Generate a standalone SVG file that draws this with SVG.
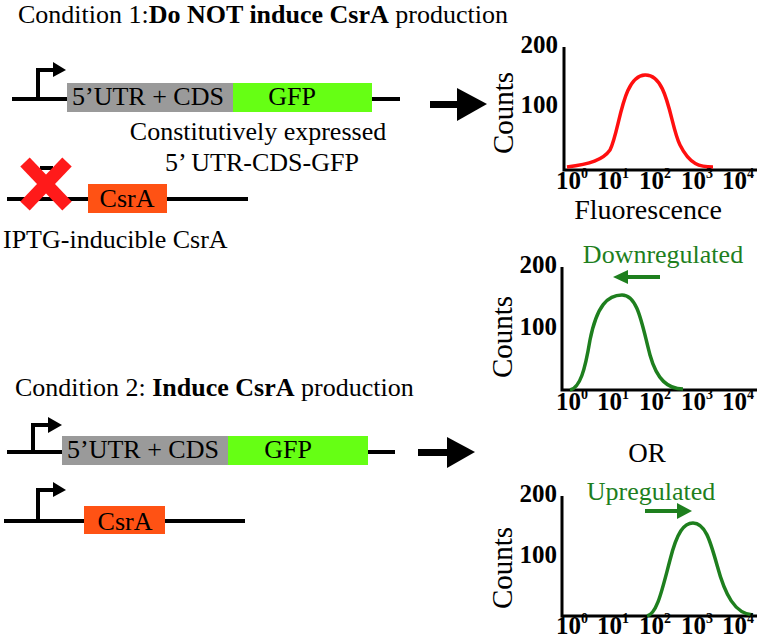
<svg xmlns="http://www.w3.org/2000/svg" width="758" height="639" viewBox="0 0 758 639">
<style>
text{font-family:"Liberation Serif","Times New Roman",serif;fill:#000}
.t{font-size:26px}
.b{font-weight:bold}
.tick{font-size:25px;font-weight:bold}
.sup{font-size:14px}
.ylab{font-size:25px;font-weight:bold;text-anchor:end}
.counts{font-size:29px;text-anchor:middle}
.dna{stroke:#000;stroke-width:4;fill:none}
.prom{stroke:#000;stroke-width:4;fill:none}
.axis{stroke:#000;stroke-width:3;fill:none}
.gray{fill:#9a9a9a}
.gfp{fill:#66ff14}
.csra{fill:#ff5214}
.green{fill:#1e7f1e}
.gcurve{stroke:#1e7f1e;stroke-width:3.5;fill:none}
.rcurve{stroke:#ff0f0f;stroke-width:3.5;fill:none}
.mid{text-anchor:middle}
</style>

<g id="title1"><text class="t" x="18" y="23">Condition 1:<tspan class="b">Do NOT induce CsrA</tspan> production</text></g>
<g id="title2"><text class="t" x="15" y="396">Condition 2: <tspan class="b">Induce CsrA</tspan> production</text></g>

<g id="construct1">
<line class="dna" x1="12" y1="99" x2="400" y2="99"/>
<polyline class="prom" points="38,99 38,70 55,70"/>
<polygon points="53,62 66,70 53,77"/>
<rect class="gray" x="67" y="83" width="166" height="29"/>
<rect class="gfp" x="233" y="83" width="139" height="29"/>
<text class="t" x="72" y="105">5’UTR + CDS</text>
<text class="t mid" x="292" y="105">GFP</text>
<text class="t mid" x="258" y="140">Constitutively expressed</text>
<text class="t mid" x="262" y="171">5’ UTR-CDS-GFP</text>
</g>

<g id="construct2">
<line class="dna" x1="7" y1="199" x2="248" y2="199"/>
<line class="dna" x1="40" y1="168" x2="53" y2="168"/>
<rect class="csra" x="88" y="184" width="79" height="29"/>
<text class="t mid" x="127" y="207">CsrA</text>
<g stroke="#ff1a1a" stroke-width="13">
<line x1="25" y1="162" x2="67" y2="206"/>
<line x1="67" y1="162" x2="25" y2="206"/>
</g>
<text class="t" x="3" y="248">IPTG-inducible CsrA</text>
</g>

<g id="construct3">
<line class="dna" x1="7" y1="452" x2="395" y2="452"/>
<polyline class="prom" points="33,452 33,425 50,425"/>
<polygon points="48,417 62,425 48,433"/>
<rect class="gray" x="62" y="436" width="166" height="29"/>
<rect class="gfp" x="228" y="436" width="140" height="29"/>
<text class="t" x="67" y="458">5’UTR + CDS</text>
<text class="t mid" x="288" y="458">GFP</text>
</g>

<g id="construct4">
<line class="dna" x1="4" y1="521" x2="245" y2="521"/>
<polyline class="prom" points="38,521 38,490 55,490"/>
<polygon points="53,482 66,490 53,497"/>
<rect class="csra" x="84" y="506" width="81" height="28"/>
<text class="t mid" x="125" y="530">CsrA</text>
</g>

<g id="connectors">
<rect x="430" y="101" width="30" height="7"/>
<polygon points="457,88 487,104 457,121"/>
<rect x="418" y="449" width="31" height="7"/>
<polygon points="447,437 475,452 447,468"/>
</g>

<g id="plot1">
<polyline class="axis" points="564,47 564,170 757,170"/>
<text class="ylab" x="558" y="53">200</text>
<text class="ylab" x="558" y="113">100</text>
<text class="counts" transform="translate(513,113) rotate(-90)">Counts</text>
<path class="rcurve" d="M567,167 C590,164 603,160 610,150 C620,130 622,76 645,75 C668,74 670,125 680,145 C690,165 700,167 713,167"/>
<text class="tick" x="556" y="189">10<tspan class="sup" dy="-11">0</tspan></text>
<text class="tick" x="597" y="189">10<tspan class="sup" dy="-11">1</tspan></text>
<text class="tick" x="639" y="189">10<tspan class="sup" dy="-11">2</tspan></text>
<text class="tick" x="681" y="189">10<tspan class="sup" dy="-11">3</tspan></text>
<text class="tick" x="722" y="189">10<tspan class="sup" dy="-11">4</tspan></text>
<text class="mid" x="648" y="219" font-size="28">Fluorescence</text>
</g>

<g id="plot2">
<text class="t mid green" x="663" y="263">Downregulated</text>
<line x1="660" y1="277" x2="625" y2="277" stroke="#1e7f1e" stroke-width="4"/>
<polygon class="green" points="628,270 613,277 628,284"/>
<polyline class="axis" points="562,267 562,390 757,390"/>
<text class="ylab" x="557" y="273">200</text>
<text class="ylab" x="557" y="335">100</text>
<text class="counts" transform="translate(512,337) rotate(-90)">Counts</text>
<path class="gcurve" d="M570,390 C580,388 585,370 590,340 C597,305 608,295 622,295 C638,295 642,325 650,355 C657,380 668,389 683,389"/>
<text class="tick" x="556" y="410">10<tspan class="sup" dy="-11">0</tspan></text>
<text class="tick" x="597" y="410">10<tspan class="sup" dy="-11">1</tspan></text>
<text class="tick" x="639" y="410">10<tspan class="sup" dy="-11">2</tspan></text>
<text class="tick" x="681" y="410">10<tspan class="sup" dy="-11">3</tspan></text>
<text class="tick" x="722" y="410">10<tspan class="sup" dy="-11">4</tspan></text>
</g>

<g id="or"><text class="mid" x="647" y="462" font-size="27">OR</text></g>

<g id="plot3">
<text class="t mid green" x="651" y="500">Upregulated</text>
<line x1="645" y1="511" x2="680" y2="511" stroke="#1e7f1e" stroke-width="4"/>
<polygon class="green" points="677,503 692,511 677,519"/>
<polyline class="axis" points="562,496 562,616 757,616"/>
<text class="ylab" x="557" y="502">200</text>
<text class="ylab" x="557" y="563">100</text>
<text class="counts" transform="translate(512,568) rotate(-90)">Counts</text>
<path class="gcurve" d="M647,616 C657,614 662,590 670,560 C677,532 684,523 693,523 C705,523 710,540 717,565 C725,595 735,614 753,615"/>
<text class="tick" x="556" y="634">10<tspan class="sup" dy="-11">0</tspan></text>
<text class="tick" x="597" y="634">10<tspan class="sup" dy="-11">1</tspan></text>
<text class="tick" x="639" y="634">10<tspan class="sup" dy="-11">2</tspan></text>
<text class="tick" x="681" y="634">10<tspan class="sup" dy="-11">3</tspan></text>
<text class="tick" x="722" y="634">10<tspan class="sup" dy="-11">4</tspan></text>
</g>
</svg>
